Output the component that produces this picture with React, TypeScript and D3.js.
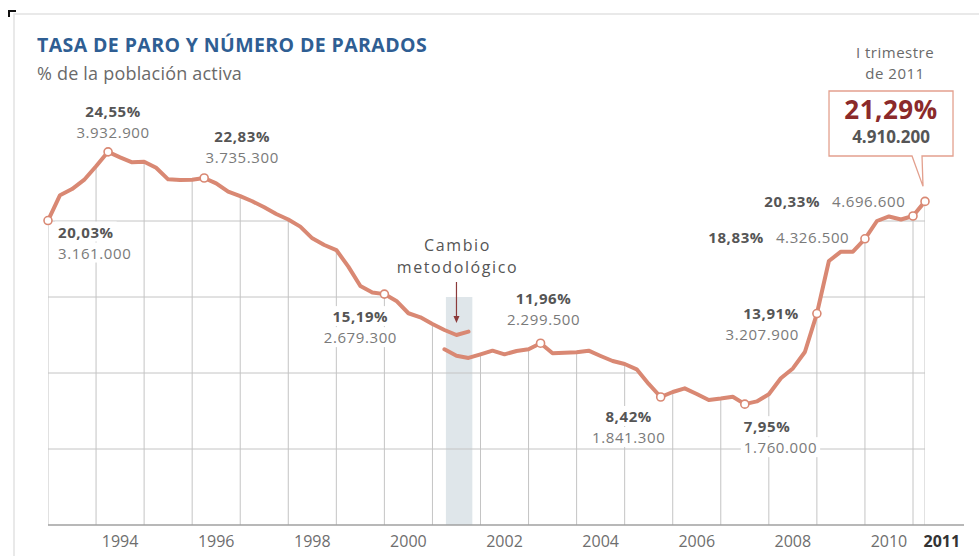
import React, { useEffect, useRef } from 'react'
import * as d3 from 'd3'

// Tasa de paro EPA (%), trimestral. Serie antigua: primer punto IV-1992
const oldStart = 1993.0
const oldRates = [
    20.03, 21.7, 22.1, 22.7, 23.6, 24.55, 24.19, 23.86, 23.9, 23.5, 22.74, 22.7,
    22.72, 22.83, 22.48, 21.93, 21.64, 21.3, 20.9, 20.46, 20.1, 19.63, 18.86,
    18.42, 18.09, 17.0, 15.72, 15.3, 15.19, 14.74, 13.93, 13.66, 13.22, 12.83,
    12.5, 12.72,
]

// Serie nueva (cambio metodológico), primer punto I-2001
const newStart = 2001.25
const newRates = [
    11.56, 11.14, 10.99, 11.23, 11.47, 11.23, 11.45, 11.56, 11.96, 11.3, 11.33,
    11.36, 11.47, 11.12, 10.79, 10.59, 10.24, 9.28, 8.42, 8.75, 8.99, 8.62, 8.22,
    8.32, 8.44, 7.95, 8.13, 8.6, 9.65, 10.3, 11.38, 13.91, 17.37, 17.98, 17.98,
    18.83, 20.0, 20.3, 20.1, 20.33, 21.29,
]

const yearLabels = [1994, 1996, 1998, 2000, 2002, 2004, 2006, 2008, 2010]
const gridYears = [
    1993, 1994, 1995, 1996, 1997, 1998, 1999, 2000, 2001, 2002, 2003, 2004, 2005,
    2006, 2007, 2008, 2009, 2010, 2011, 2011.25,
]
const gridRates = [5, 10, 15, 20]
const changeBand = [2001.28, 2001.83]

// Puntos destacados
const markerTimes = [1993.0, 1994.25, 1996.25, 2000.0, 2003.25, 2005.75, 2007.5, 2009.0, 2010.0, 2011.0]
const markerRates = ['20,03%', '24,55%', '22,83%', '15,19%', '11,96%', '8,42%', '7,95%', '13,91%', '18,83%', '20,33%']
const markerCounts = ['3.161.000', '3.932.900', '3.735.300', '2.679.300', '2.299.500', '1.841.300', '1.760.000', '3.207.900', '4.326.500', '4.696.600']

const lastTime = 2011.25
const lastRate = '21,29%'
const lastCount = '4.910.200'

// colocación de las etiquetas respecto al punto
const labelLayout = [
    { dx: 10, dy1: 17, dy2: 38, anchor: 'start' },
    { dx: 5, dy1: -35, dy2: -14, anchor: 'middle' },
    { dx: 38, dy1: -36, dy2: -15, anchor: 'middle' },
    { dx: -24, dy1: 28, dy2: 49, anchor: 'middle' },
    { dx: 3, dy1: -39, dy2: -18, anchor: 'middle' },
    { dx: -32, dy1: 25, dy2: 46, anchor: 'middle' },
    { dx: -1, dy1: 28, dy2: 49, anchor: 'start' },
    { dx: -18, dy1: 5, dy2: 26, anchor: 'end' },
    { inline: true, dx: -101, dx2: -89, dy: 4 },
    { inline: true, dx: -93, dx2: -81, dy: -9 },
]

const FONT = "'Open Sans', sans-serif"
const LINE = '#d98873'
const GRID = '#c4c4c4'

const App: React.FC = () => {
    const svgRef = useRef<SVGSVGElement | null>(null)

    useEffect(() => {
        if (!svgRef.current) return
        const svg = d3.select(svgRef.current)
        svg.selectAll('*').remove()

        const x = d3.scaleLinear().domain([1993, 2011]).range([48, 913])
        const y = d3.scaleLinear().domain([0, 20]).range([525, 221])

        const oldPts = oldRates.map((v, i) => ({ t: oldStart + i * 0.25, v }))
        const newPts = newRates.map((v, i) => ({ t: newStart + i * 0.25, v }))
        const allPts = [...oldPts.filter((p) => p.t < newStart), ...newPts]
        const valueAt = (t: number) => allPts.find((p) => Math.abs(p.t - t) < 0.01)!.v

        // card border + corner mark
        svg.append('path')
            .attr('d', 'M14,556 V14 H979')
            .attr('fill', 'none')
            .attr('stroke', '#e2e2e2')
            .attr('stroke-width', 1.5)
        svg.append('path')
            .attr('d', 'M9,17 V11 H16')
            .attr('fill', 'none')
            .attr('stroke', '#111')
            .attr('stroke-width', 2)

        // title
        svg.append('text')
            .attr('x', 37)
            .attr('y', 52)
            .attr('font-family', FONT)
            .attr('font-weight', 700)
            .attr('font-size', 19.5)
            .attr('letter-spacing', 0.4)
            .attr('fill', '#2f5e93')
            .text('TASA DE PARO Y NÚMERO DE PARADOS')
        svg.append('text')
            .attr('x', 37)
            .attr('y', 80)
            .attr('font-family', FONT)
            .attr('font-size', 18)
            .attr('letter-spacing', 0.2)
            .attr('fill', '#6a6a6a')
            .text('% de la población activa')

        // methodological change band
        svg.append('rect')
            .attr('x', x(changeBand[0]))
            .attr('y', 297)
            .attr('width', x(changeBand[1]) - x(changeBand[0]))
            .attr('height', y(0) - 297)
            .attr('fill', '#dfe6ea')

        // grid clipped to area under the curve
        const area = d3
            .area<{ t: number; v: number }>()
            .x((d) => x(d.t))
            .y0(y(0))
            .y1((d) => y(d.v))
        const clip = svg.append('defs').append('clipPath').attr('id', 'under')
        clip.append('path').attr('d', area(oldPts))
        clip.append('path').attr('d', area(newPts))

        const grid = svg.append('g').attr('clip-path', 'url(#under)')
        grid.selectAll('line.v')
            .data(gridYears)
            .enter()
            .append('line')
            .attr('x1', (d) => x(d))
            .attr('x2', (d) => x(d))
            .attr('y1', y(0))
            .attr('y2', y(26))
            .attr('stroke', GRID)
            .attr('stroke-width', 1)
        grid.selectAll('line.h')
            .data(gridRates)
            .enter()
            .append('line')
            .attr('x1', x(1993))
            .attr('x2', x(lastTime))
            .attr('y1', (d) => y(d))
            .attr('y2', (d) => y(d))
            .attr('stroke', GRID)
            .attr('stroke-width', 1)

        // baseline + year labels
        svg.append('line')
            .attr('x1', x(1993))
            .attr('x2', 964)
            .attr('y1', y(0))
            .attr('y2', y(0))
            .attr('stroke', '#a0a0a0')
            .attr('stroke-width', 1.5)
        svg.selectAll('text.year')
            .data(yearLabels)
            .enter()
            .append('text')
            .attr('x', (d) => x(d + 0.5))
            .attr('y', 547)
            .attr('text-anchor', 'middle')
            .attr('font-family', FONT)
            .attr('font-size', 16)
            .attr('fill', '#6e6e6e')
            .text((d) => d)
        svg.append('text')
            .attr('x', x(2011.6))
            .attr('y', 547)
            .attr('text-anchor', 'middle')
            .attr('font-family', FONT)
            .attr('font-weight', 700)
            .attr('font-size', 16)
            .attr('fill', '#333')
            .text('2011')

        // labels with white backing
        const addLabel = (
            tx: number,
            ty: number,
            str: string,
            anchor: string,
            bold: boolean
        ) => {
            const g = svg.append('g')
            const r = g.append('rect').attr('fill', '#fff')
            const t = g
                .append('text')
                .attr('x', tx)
                .attr('y', ty)
                .attr('text-anchor', anchor)
                .attr('font-family', FONT)
                .attr('font-size', 15)
                .attr('font-weight', bold ? 700 : 400)
                .attr('fill', bold ? '#555' : '#7a7a7a')
                .attr('letter-spacing', 0.6)
                .text(str)
            const b = (t.node() as SVGTextElement).getBBox()
            r.attr('x', b.x - 3)
                .attr('y', b.y)
                .attr('width', b.width + 6)
                .attr('height', b.height)
        }

        markerTimes.forEach((t, i) => {
            const px = x(t)
            const py = y(valueAt(t))
            const L = labelLayout[i] as any
            if (L.inline) {
                addLabel(px + L.dx, py + L.dy, markerRates[i], 'end', true)
                addLabel(px + L.dx2, py + L.dy, markerCounts[i], 'start', false)
            } else {
                addLabel(px + L.dx, py + L.dy1, markerRates[i], L.anchor, true)
                addLabel(px + L.dx, py + L.dy2, markerCounts[i], L.anchor, false)
            }
        })

        // lines
        const line = d3
            .line<{ t: number; v: number }>()
            .x((d) => x(d.t))
            .y((d) => y(d.v))
        ;[oldPts, newPts].forEach((pts) => {
            svg.append('path')
                .attr('d', line(pts))
                .attr('fill', 'none')
                .attr('stroke', LINE)
                .attr('stroke-width', 4)
                .attr('stroke-linejoin', 'round')
                .attr('stroke-linecap', 'round')
        })

        // markers
        svg.selectAll('circle.m')
            .data([...markerTimes, lastTime])
            .enter()
            .append('circle')
            .attr('cx', (d) => x(d))
            .attr('cy', (d) => y(valueAt(d)))
            .attr('r', 4)
            .attr('fill', '#fff')
            .attr('stroke', LINE)
            .attr('stroke-width', 1.6)

        // cambio metodológico
        const cx = x(2001.5)
        ;['Cambio', 'metodológico'].forEach((s, i) => {
            svg.append('text')
                .attr('x', cx + 1)
                .attr('y', 251 + i * 22)
                .attr('text-anchor', 'middle')
                .attr('font-family', FONT)
                .attr('font-size', 16)
                .attr('letter-spacing', 1.6)
                .attr('fill', '#555')
                .text(s)
        })
        svg.append('line')
            .attr('x1', cx)
            .attr('x2', cx)
            .attr('y1', 282)
            .attr('y2', 318)
            .attr('stroke', '#8b3a3a')
            .attr('stroke-width', 1.2)
        svg.append('path')
            .attr('d', `M${cx - 3},316 L${cx + 3},316 L${cx},323 Z`)
            .attr('fill', '#8b3a3a')

        // callout for the last quarter
        const lx = x(lastTime)
        const ly = y(valueAt(lastTime))
        ;['I trimestre', 'de 2011'].forEach((s, i) => {
            svg.append('text')
                .attr('x', lx - 30)
                .attr('y', 58 + i * 21)
                .attr('text-anchor', 'middle')
                .attr('font-family', FONT)
                .attr('font-size', 15)
                .attr('letter-spacing', 0.5)
                .attr('fill', '#6a6a6a')
                .text(s)
        })
        const bl = lx - 96
        const br = lx + 28
        const bt = 91
        const bb = 156
        svg.append('path')
            .attr(
                'd',
                `M${bl},${bt} H${br} V${bb} H${lx - 3} L${lx - 2},${ly - 15} L${lx - 13},${bb} H${bl} Z`
            )
            .attr('fill', '#fff')
            .attr('stroke', '#e3a08e')
            .attr('stroke-width', 1.3)
        svg.append('text')
            .attr('x', (bl + br) / 2)
            .attr('y', 119)
            .attr('text-anchor', 'middle')
            .attr('font-family', FONT)
            .attr('font-weight', 700)
            .attr('font-size', 26)
            .attr('letter-spacing', 0.5)
            .attr('fill', '#8b2a2a')
            .text(lastRate)
        svg.append('text')
            .attr('x', (bl + br) / 2)
            .attr('y', 143)
            .attr('text-anchor', 'middle')
            .attr('font-family', FONT)
            .attr('font-weight', 700)
            .attr('font-size', 17)
            .attr('fill', '#555')
            .text(lastCount)
    }, [])

    return (
        <svg
            ref={svgRef}
            width={979}
            height={556}
            style={{ position: 'absolute', left: 0, top: 0, background: '#fff' }}
        ></svg>
    )
}

export default App
